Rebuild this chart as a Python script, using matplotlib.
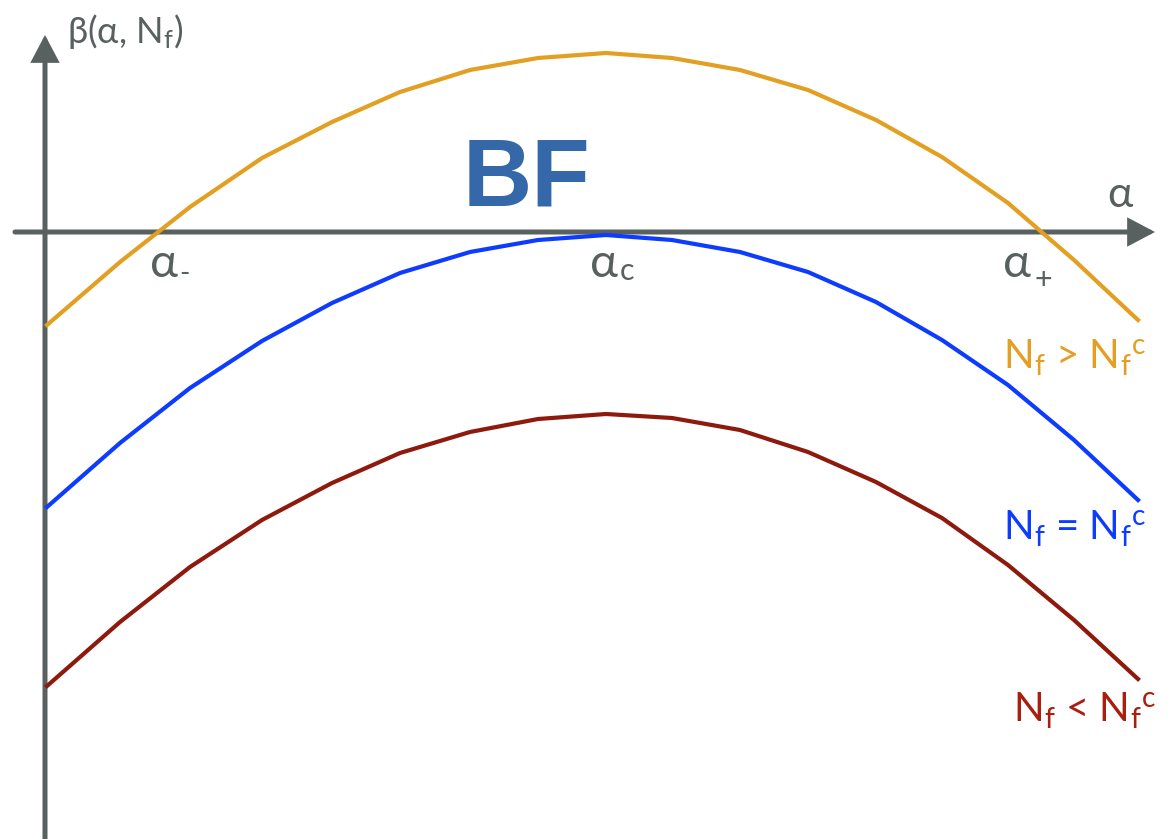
import matplotlib
matplotlib.use("Agg")
import matplotlib.pyplot as plt

plt.rcParams['font.family'] = ['Lato', 'Noto Sans', 'DejaVu Sans']
plt.rcParams['mathtext.fontset'] = 'custom'
plt.rcParams['mathtext.rm'] = 'Lato'
plt.rcParams['mathtext.it'] = 'Lato:italic'

# ---- curve samples: beta(alpha, N_f) for three flavour numbers ----
alpha = [0.02, 0.75, 1.45, 2.17, 2.87, 3.55, 4.25, 4.93, 5.61,
         6.27, 6.95, 7.63, 8.31, 8.97, 9.63, 10.29, 10.93]
beta_above = [-0.93, -0.30, 0.25, 0.74, 1.10, 1.40, 1.62, 1.74, 1.79,
              1.74, 1.62, 1.42, 1.12, 0.75, 0.29, -0.28, -0.88]
beta_crit = [-2.75, -2.11, -1.56, -1.09, -0.71, -0.41, -0.20, -0.08, -0.03,
             -0.08, -0.20, -0.40, -0.70, -1.08, -1.53, -2.08, -2.68]
beta_below = [-4.54, -3.90, -3.35, -2.88, -2.51, -2.21, -2.00, -1.87, -1.82,
              -1.86, -1.98, -2.20, -2.50, -2.86, -3.33, -3.88, -4.47]

labels = [r"$\mathrm{N_f}$ > $\mathrm{N_f{}^c}$",
          r"$\mathrm{N_f}$ = $\mathrm{N_f{}^c}$",
          r"$\mathrm{N_f}$ < $\mathrm{N_f{}^c}$"]

AXIS_GREY = "#596060"
YELLOW = "#E39F22"
BLUE = "#0D3CFF"
DARKRED = "#8E1A0E"

fig = plt.figure(figsize=(11.7, 8.39), dpi=100)
ax = fig.add_axes([0, 0, 1, 1])
ax.set_xlim(-0.45, 11.25)
ax.set_ylim(-6.07, 2.32)
ax.axis('off')

# axes with arrow heads
arrow = dict(arrowstyle='-|>,head_length=0.36,head_width=0.19',
             mutation_scale=40, lw=3.6, color=AXIS_GREY,
             shrinkA=0, shrinkB=0, joinstyle='miter')
ax.annotate('', xy=(0.0, 1.97), xytext=(0.0, -6.2), arrowprops=arrow, zorder=1)
ax.annotate('', xy=(11.10, 0.0), xytext=(-0.30, 0.0), arrowprops=arrow, zorder=1)

ax.plot(alpha, beta_above, color=YELLOW, lw=3.0, zorder=3)
ax.plot(alpha, beta_crit, color=BLUE, lw=3.0, zorder=3)
ax.plot(alpha, beta_below, color=DARKRED, lw=3.0, zorder=3)

# axis labels
ax.text(0.22, 1.89, r"β(α, $\mathrm{N_f}$)", fontsize=26, color=AXIS_GREY,
        ha='left', va='baseline')
ax.text(10.62, 0.25, "α", fontsize=31, color=AXIS_GREY, ha='left', va='baseline')

# roots and critical point on the alpha axis, with hand-placed subscripts
ax.text(1.05, -0.45, "α", fontsize=34, color=AXIS_GREY, ha='left', va='baseline')
ax.text(1.34, -0.50, "-", fontsize=20, color=AXIS_GREY, ha='left', va='baseline')
ax.text(5.45, -0.45, "α", fontsize=34, color=AXIS_GREY, ha='left', va='baseline')
ax.text(5.75, -0.48, "c", fontsize=22, color=AXIS_GREY, ha='left', va='baseline')
ax.text(9.58, -0.45, "α", fontsize=34, color=AXIS_GREY, ha='left', va='baseline')
ax.text(9.89, -0.57, "+", fontsize=22, color=AXIS_GREY, ha='left', va='baseline')

ax.text(4.18, 0.27, "BF", fontsize=69, fontweight='bold', family='Liberation Sans',
        color="#3468A8", ha='left', va='baseline')

# curve labels
ax.text(9.58, -1.37, labels[0], fontsize=29, color=YELLOW, ha='left', va='baseline')
ax.text(9.58, -3.08, labels[1], fontsize=29, color=BLUE, ha='left', va='baseline')
ax.text(9.68, -4.90, labels[2], fontsize=29, color="#A81F10", ha='left', va='baseline')

fig.savefig("out.png", dpi=100)
